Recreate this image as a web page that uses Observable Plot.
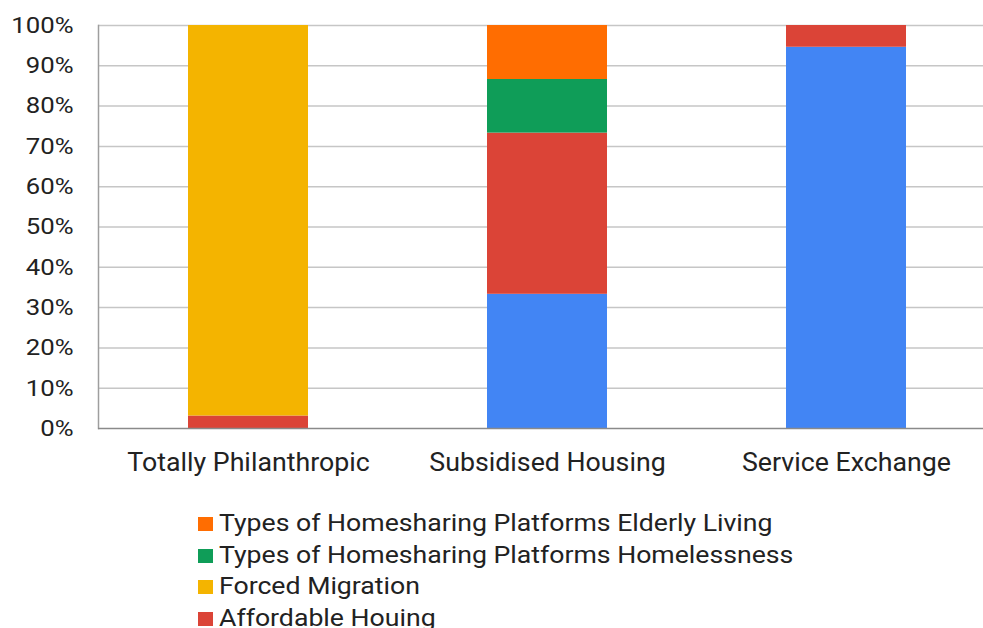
<!DOCTYPE html>
<html>
<head>
<meta charset="utf-8">
<script src="https://cdn.jsdelivr.net/npm/d3@7"></script>
<script src="https://cdn.jsdelivr.net/npm/@observablehq/plot@0.6"></script>
<style>
  html, body { margin: 0; padding: 0; background: #fff; }
  body { position: relative; width: 983px; height: 628px; overflow: hidden; font-family: Roboto, sans-serif; }
  #legend { position: absolute; left: 198px; top: 507px; }
  .item { display: flex; align-items: center; height: 31.7px; font-size: 24px; color: #222; white-space: nowrap; }
  .sw { width: 15px; height: 14px; margin-right: 6px; margin-top: 2px; flex: none; }
  .lt { display: inline-block; transform: scaleX(1.11); transform-origin: left center; }
</style>
</head>
<body>
<div id="chart"></div>
<div id="legend"></div>
<script>
const categories = ["Totally Philanthropic", "Subsidised Housing", "Service Exchange"];
// stack order bottom → top
const seriesKeys = ["blue", "Affordable Houing", "Forced Migration",
  "Types of Homesharing Platforms Homelessness", "Types of Homesharing Platforms Elderly Living"];
const seriesColors = ["#4285F4", "#DB4437", "#F4B400", "#0F9D58", "#FF6D01"];
// percentage of each category, per series (same order as seriesKeys)
const valuesPhilanthropic = [0, 3.1, 96.9, 0, 0];
const valuesSubsidised = [33.3, 40.0, 0, 13.3, 13.4];
const valuesService = [94.6, 5.4, 0, 0, 0];
const yTicks = [0, 10, 20, 30, 40, 50, 60, 70, 80, 90, 100];
const legendOrder = ["Types of Homesharing Platforms Elderly Living",
  "Types of Homesharing Platforms Homelessness", "Forced Migration", "Affordable Houing"];

const valueSets = [valuesPhilanthropic, valuesSubsidised, valuesService];
const rows = [];
categories.forEach((c, i) => {
  seriesKeys.forEach((s, j) => {
    rows.push({category: c, series: s, value: valueSets[i][j]});
  });
});

const W = 983, H = 490;
const plot = Plot.plot({
  width: W,
  height: H,
  marginLeft: 98,
  marginRight: 0,
  marginTop: 25,
  marginBottom: H - 428,
  style: {fontFamily: "Roboto, sans-serif", fontSize: "22px", color: "#222", background: "white"},
  x: {domain: categories, range: [98, 995], paddingInner: 0.6, paddingOuter: 0.3, label: null},
  y: {domain: [0, 100], label: null},
  color: {domain: seriesKeys, range: seriesColors},
  marks: [
    Plot.ruleY(yTicks.filter(d => d > 0), {stroke: "#c6c6c6", strokeWidth: 1.5}),
    Plot.barY(rows, {x: "category", y: "value", fill: "series", order: seriesKeys}),
    Plot.frame({anchor: "left", stroke: "#9e9e9e", strokeWidth: 1.5}),
    Plot.ruleY([0], {stroke: "#8a8a8a", strokeWidth: 1.5}),
    Plot.axisY({ticks: yTicks, tickFormat: d => d + "%", tickSize: 0, tickPadding: 25, fontSize: 23, label: null}),
    Plot.axisX({tickSize: 0, tickPadding: 25, fontSize: 25, label: null})
  ]
});
document.getElementById("chart").appendChild(plot);

// horizontal stretch of tick labels, as in the reference rendering
function stretch(sel, k) {
  d3.select(plot).selectAll(sel).each(function () {
    const t = d3.select(this);
    const tr = t.attr("transform");
    if (tr) {
      t.attr("transform", tr + ` scale(${k},1)`);
    } else {
      const x = +t.attr("x") || 0, y = +t.attr("y") || 0;
      t.attr("x", null).attr("y", null).attr("transform", `translate(${x},${y}) scale(${k},1)`);
    }
  });
}
stretch('g[aria-label="y-axis tick label"] text', 1.12);
stretch('g[aria-label="x-axis tick label"] text', 1.07);

const legend = document.getElementById("legend");
legendOrder.forEach(name => {
  const item = document.createElement("div");
  item.className = "item";
  const sw = document.createElement("span");
  sw.className = "sw";
  sw.style.background = seriesColors[seriesKeys.indexOf(name)];
  const t = document.createElement("span");
  t.className = "lt";
  t.textContent = name;
  item.appendChild(sw);
  item.appendChild(t);
  legend.appendChild(item);
});
</script>
</body>
</html>
